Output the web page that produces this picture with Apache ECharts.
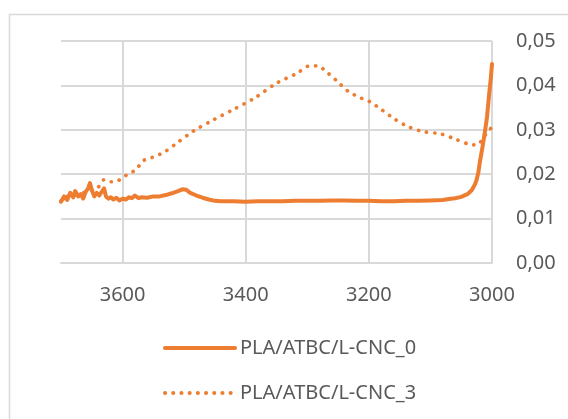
<!DOCTYPE html>
<html>
<head>
<meta charset="utf-8">
<script src="https://cdn.jsdelivr.net/npm/echarts@6/dist/echarts.min.js"></script>
<style>
html,body{margin:0;padding:0;background:#fff;}
#chart{width:568px;height:419px;}
</style>
</head>
<body>
<div id="chart"></div>
<script>
var seriesNames = ['PLA/ATBC/L-CNC_0', 'PLA/ATBC/L-CNC_3'];

var cnc0X = [3700,3695,3690,3685,3680,3677,3672,3668,3664,3660,3656,3653,3650,3646,3642,3638,3634,3630,3627,3623,3619,3615,3610,3605,3600,3595,3590,3585,3580,3577,3574,3570,3560,3550,3540,3530,3520,3510,3503,3497,3490,3480,3470,3460,3450,3440,3420,3400,3380,3360,3340,3320,3300,3280,3260,3240,3220,3200,3180,3160,3140,3120,3100,3080,3070,3060,3050,3040,3033,3028,3025,3022,3020,3015,3011,3008,3005,3002,3000];
var cnc0Y = [0.0138,0.0150,0.0142,0.0158,0.0148,0.0162,0.0150,0.0155,0.0145,0.0160,0.0168,0.0180,0.0165,0.0150,0.0158,0.0152,0.0160,0.0168,0.0150,0.0145,0.0148,0.0143,0.0147,0.0141,0.0145,0.0143,0.0148,0.0146,0.0152,0.0155,0.0146,0.0148,0.0147,0.0150,0.0150,0.0153,0.0157,0.0162,0.0166,0.0165,0.0158,0.0152,0.0147,0.0143,0.0140,0.0139,0.0139,0.0138,0.0139,0.0139,0.0139,0.0140,0.0140,0.0140,0.0141,0.0141,0.0140,0.0140,0.0139,0.0139,0.0140,0.0140,0.0141,0.0142,0.0144,0.0146,0.0149,0.0155,0.0164,0.0176,0.0187,0.0205,0.0225,0.0265,0.0300,0.0330,0.0375,0.0415,0.0448];

var cnc3X = [3700,3690,3680,3670,3660,3650,3640,3631,3625,3617,3608,3598,3588,3578,3567,3555,3545,3534,3512,3485,3453,3421,3385,3350,3317,3296,3283,3270,3252,3234,3212,3198,3179,3158,3136,3112,3084,3063,3036,3025,3009,3000];
var cnc3Y = [0.0140,0.0150,0.0152,0.0155,0.0160,0.0165,0.0170,0.0187,0.0183,0.0183,0.0185,0.0194,0.0203,0.0210,0.0230,0.0236,0.0242,0.0248,0.0270,0.0297,0.0322,0.0345,0.0372,0.0405,0.0427,0.0444,0.0444,0.0432,0.0410,0.0387,0.0371,0.0363,0.0345,0.0324,0.0307,0.0296,0.0291,0.0281,0.0267,0.0266,0.0292,0.0306];

var xMin = 3000, xMax = 3700, xStep = 200;
var yMin = 0, yMax = 0.05, yStep = 0.01;

function pairs(xs, ys){ return xs.map(function(x,i){ return [x, ys[i]]; }); }

var color = '#ED7D31';
var textColor = '#595959';
var gridColor = '#d9d9d9';
var font = '"Noto Sans", "Open Sans", sans-serif';

var chart = echarts.init(document.getElementById('chart'), null, {renderer:'canvas'});
chart.setOption({
  backgroundColor: '#ffffff',
  animation: false,
  graphic: [{
    type: 'rect', left: 7, top: 12, silent: true,
    shape: {width: 620, height: 480},
    style: {fill: 'none', stroke: gridColor, lineWidth: 1.5}
  }],
  grid: {left: 61, right: 76, top: 41, bottom: 156, containLabel: false},
  xAxis: {
    type: 'value', min: xMin, max: xMax, interval: xStep, inverse: true,
    axisLine: {show: true, lineStyle: {color: gridColor, width: 2}},
    axisTick: {show: false},
    axisLabel: {color: textColor, fontSize: 20, fontFamily: font, margin: 22, showMaxLabel: false,
      formatter: function(v){ return String(v); }},
    splitLine: {show: true, showMaxLine: false, lineStyle: {color: gridColor, width: 2}}
  },
  yAxis: {
    type: 'value', min: yMin, max: yMax, interval: yStep, position: 'right',
    axisLine: {show: false}, axisTick: {show: false},
    axisLabel: {color: textColor, fontSize: 20, fontFamily: font, margin: 24,
      formatter: function(v){ return v.toFixed(2).replace('.', ','); }},
    splitLine: {show: true, lineStyle: {color: gridColor, width: 2}}
  },
  legend: {
    orient: 'vertical', left: 163, top: 336, padding: 0,
    itemWidth: 70, itemHeight: 24, itemGap: 21,
    itemStyle: {opacity: 0},
    lineStyle: {width: 4},
    textStyle: {color: textColor, fontSize: 20, fontFamily: font, lineHeight: 24, padding: [0,0,0,0]},
    data: seriesNames
  },
  series: [
    {
      name: seriesNames[0], type: 'line', data: pairs(cnc0X, cnc0Y),
      symbol: 'none', smooth: false, z: 3,
      lineStyle: {color: color, width: 4, cap: 'round', join: 'round'},
      itemStyle: {color: color}
    },
    {
      name: seriesNames[1], type: 'line', data: pairs(cnc3X, cnc3Y),
      symbol: 'none', smooth: 0.3, z: 4,
      lineStyle: {color: color, width: 3.7, type: [0.1, 8.1], cap: 'round'},
      itemStyle: {color: color}
    }
  ]
});
</script>
</body>
</html>
